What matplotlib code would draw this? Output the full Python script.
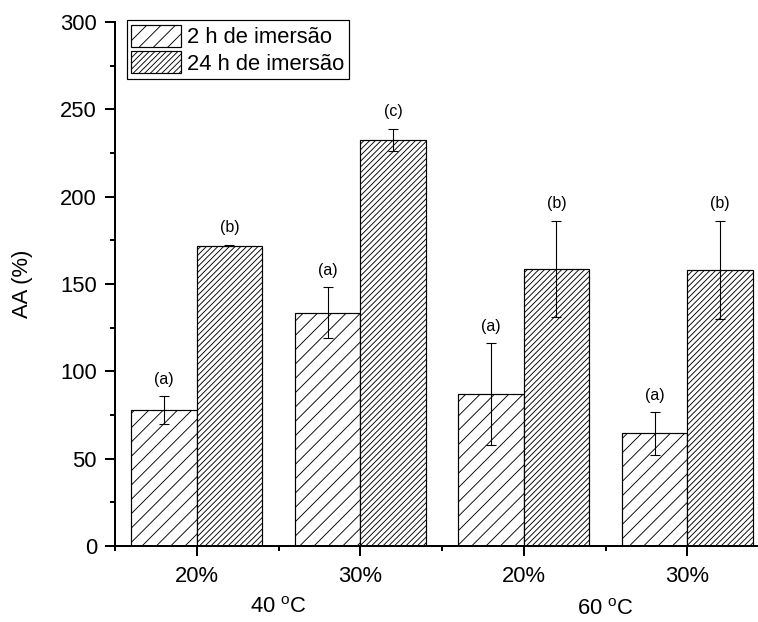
import matplotlib
matplotlib.use("Agg")
import matplotlib.pyplot as plt
import matplotlib.transforms as mtransforms
from matplotlib.ticker import FixedLocator, MultipleLocator
import numpy as np

DPI = 86


def px(v):
    """Convert a size in pixels to points at the output resolution."""
    return v * 72.0 / DPI


plt.rcParams['font.family'] = ['Liberation Sans', 'DejaVu Sans']
plt.rcParams['mathtext.fontset'] = 'custom'
plt.rcParams['mathtext.rm'] = 'Liberation Sans'
plt.rcParams['mathtext.it'] = 'Liberation Sans'
plt.rcParams['hatch.linewidth'] = px(0.9)

# Data
concentrations = ['20%', '30%', '20%', '30%']
temperatures = ['40 $^{\\mathrm{o}}$C', '60 $^{\\mathrm{o}}$C']
series_names = ['2 h de imersão', '24 h de imersão']
aa_2h = [78, 133.5, 87, 64.5]
err_2h = [8, 14.5, 29, 12.5]
aa_24h = [172, 232.5, 158.5, 158]
err_24h = [0.3, 6.5, 27.5, 28]
letters_2h = ['(a)', '(a)', '(a)', '(a)']
letters_24h = ['(b)', '(c)', '(b)', '(b)']

x = np.arange(1, len(concentrations) + 1)
width = 0.4

FS = px(22)      # main text size
FS_SMALL = px(16)

fig = plt.figure(figsize=(758 / DPI, 622 / DPI), dpi=DPI)
ax = fig.add_axes([115 / 758, 76 / 622, 654 / 758, 524 / 622])

bar_kw = dict(width=width, align='edge', color='white', edgecolor='black',
              linewidth=px(1.2), zorder=2)
ax.bar(x - width, aa_2h, hatch='//', label=series_names[0], **bar_kw)
ax.bar(x, aa_24h, hatch='/////', label=series_names[1], **bar_kw)

err_kw = dict(fmt='none', ecolor='black', elinewidth=px(1.1), capsize=px(5),
              capthick=px(1.1), zorder=3)
ax.errorbar(x - width / 2, aa_2h, yerr=err_2h, **err_kw)
ax.errorbar(x + width / 2, aa_24h, yerr=err_24h, **err_kw)

# Significance letters above each error bar
for xi, v, e, t in zip(x - width / 2, aa_2h, err_2h, letters_2h):
    ax.annotate(t, (xi, v + e), xytext=(0, px(16.5)), textcoords='offset points',
                ha='center', va='center', fontsize=FS_SMALL)
for xi, v, e, t in zip(x + width / 2, aa_24h, err_24h, letters_24h):
    ax.annotate(t, (xi, v + e), xytext=(0, px(17.5)), textcoords='offset points',
                ha='center', va='center', fontsize=FS_SMALL)

ax.set_xlim(0.5, 4.5)
ax.set_ylim(0, 300)

ax.set_xticks(x)
ax.set_xticklabels(concentrations)
ax.xaxis.set_minor_locator(FixedLocator([0.5, 1.5, 2.5, 3.5, 4.5]))
ax.yaxis.set_major_locator(MultipleLocator(50))
ax.yaxis.set_minor_locator(MultipleLocator(25))

ax.tick_params(axis='both', which='major', direction='out', length=px(10),
               width=px(2), labelsize=FS, colors='black')
ax.tick_params(axis='both', which='minor', direction='out', length=px(5),
               width=px(2))
ax.tick_params(axis='x', which='major', pad=px(10))
ax.tick_params(axis='y', which='major', pad=px(8))

for side in ['top', 'right']:
    ax.spines[side].set_visible(False)
for side in ['left', 'bottom']:
    ax.spines[side].set_linewidth(px(2))
ax.spines['bottom'].set_zorder(4)

ax.set_ylabel('AA (%)', fontsize=FS)
ax.yaxis.set_label_coords(-0.126, 0.5)

# Temperature labels under each pair of groups
trans = mtransforms.blended_transform_factory(ax.transData, ax.transAxes)
for xc, yc, t in zip([1.5, 3.5], [-0.117, -0.121], temperatures):
    ax.text(xc, yc, t, transform=trans, ha='center', va='center', fontsize=FS)

leg = ax.legend(loc='upper left', bbox_to_anchor=(0.018, 1.003), fontsize=FS,
                frameon=True, fancybox=False, shadow=False, borderaxespad=0,
                handlelength=2.25, handleheight=1.15, handletextpad=0.3,
                labelspacing=0.15, borderpad=0.2)
leg.get_frame().set_edgecolor('black')
leg.get_frame().set_linewidth(px(1.2))
leg.get_frame().set_alpha(1)

fig.savefig('out.png', dpi=DPI)
